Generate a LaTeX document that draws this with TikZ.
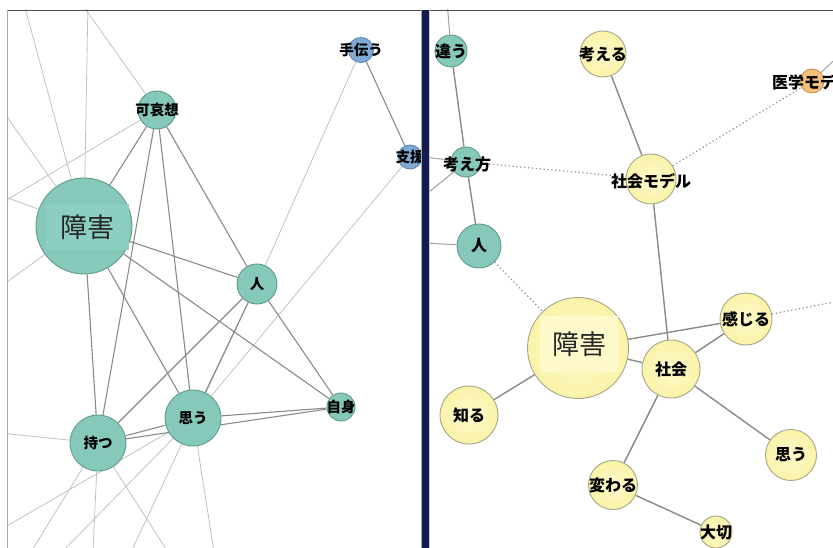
\documentclass[tikz,border=0pt]{standalone}
\usepackage{fontspec}
\newfontfamily\jp{Noto Sans CJK JP}
\pgfdeclarelayer{edgelayer}
\pgfsetlayers{edgelayer,main}
\definecolor{tlfill}{HTML}{86C9BB}
\definecolor{tlband}{HTML}{8CCFC2}
\definecolor{tldraw}{HTML}{5E9A8D}
\definecolor{blfill}{HTML}{7FAAD4}
\definecolor{bldraw}{HTML}{5A86B2}
\definecolor{ylfill}{HTML}{FAF3A8}
\definecolor{ylin}{HTML}{FEF9CC}
\definecolor{ylband}{HTML}{FEF9CA}
\definecolor{yldraw}{HTML}{A8A688}
\definecolor{olfill}{HTML}{F4C07A}
\definecolor{oldraw}{HTML}{C4975A}
\definecolor{navy}{HTML}{151B4A}
\definecolor{edgedark}{HTML}{8A8A8A}
\definecolor{edgelight}{HTML}{C2C2C2}
\definecolor{dotcol}{HTML}{9A9A9A}
\definecolor{leftrule}{HTML}{A0A6BE}
\tikzset{
  nd/.style={circle, inner sep=0pt, line width=0.9pt},
  tl/.style={nd, fill=tlfill, draw=tldraw},
  bl/.style={nd, fill=blfill, draw=bldraw},
  yl/.style={nd, draw=yldraw, shade, inner color=ylin, outer color=ylfill},
  ol/.style={nd, fill=olfill, draw=oldraw},
  lsm/.style={font=\jp\bfseries\fontsize{14.5}{15}\selectfont, text=black, inner sep=0pt},
  rsm/.style={font=\jp\bfseries\fontsize{16}{17}\selectfont, text=black, inner sep=0pt},
  bigtxt/.style={font=\jp\fontsize{27}{28}\selectfont, text=black!85, inner sep=0pt},
  se/.style={draw=edgedark, line width=1.1pt},
  le/.style={draw=edgelight, line width=0.8pt},
  re/.style={draw=edgedark, line width=1.4pt},
  rl/.style={draw=edgedark!80, line width=1.0pt},
  de/.style={draw=dotcol, line width=1.3pt, dash pattern=on 1.3pt off 2.6pt},
}
\begin{document}
\begin{tikzpicture}[x=1pt,y=-1pt]
\useasboundingbox (0,0) rectangle (833,548);

% ---------- left panel nodes ----------
\begin{scope}
\clip (7,10) rectangle (421,548);
\node[tl, minimum size=96pt] (Lsh) at (84,226) {};
\node[bigtxt, fill=tlband, minimum width=83pt, minimum height=46pt] (Lshtxt) at (87,227) {障害};
\node[tl, minimum size=38pt, label={[lsm]center:可哀想}] (Lka) at (157,110) {};
\node[bl, minimum size=25pt, label={[lsm]center:手伝う}] (Lte) at (361,50) {};
\node[bl, minimum size=24pt, label={[lsm]center:支援}] (Lsi) at (410,157) {};
\node[tl, minimum size=40pt, label={[lsm]center:人}] (Lhi) at (257,284) {};
\node[tl, minimum size=56pt, label={[lsm]center:持つ}] (Lmo) at (98,443) {};
\node[tl, minimum size=56pt, label={[lsm]center:思う}] (Lom) at (193,418) {};
\node[tl, minimum size=28pt, label={[lsm]center:自身}] (Lji) at (341,407) {};
\end{scope}

% ---------- right panel nodes ----------
\begin{scope}
\clip (429,10) rectangle (833,548);
\node[tl, minimum size=32pt, label={[rsm]center:違う}] (Rch) at (451,51) {};
\node[tl, minimum size=30pt] (Rkk) at (466,162) {};
\node[rsm] (Rkktxt) at (467,164) {考え方};
\node[tl, minimum size=44pt, label={[rsm]center:人}] (Rhi) at (479,246) {};
\node[yl, minimum size=46pt, label={[rsm]center:考える}] (Rka) at (603,54) {};
\node[yl, minimum size=50pt] (Rsm) at (651,179) {};
\node[rsm] (Rsmtxt) at (651,181) {社会モデル};
\node[ol, minimum size=24pt] (Ris) at (812,81) {};
\node[rsm] (Ristxt) at (812,82) {医学モデル};
\node[yl, minimum size=101pt] (Rsh) at (578,348) {};
\node[bigtxt, fill=ylband, minimum width=78pt, minimum height=56pt] (Rshtxt) at (579,344) {障害};
\node[yl, minimum size=58pt, label={[rsm]center:社会}] (Rsk) at (671,369) {};
\node[yl, minimum size=52pt, label={[rsm]center:感じる}] (Rkj) at (746,319) {};
\node[yl, minimum size=58pt, label={[rsm]center:知る}] (Rsr) at (469,415) {};
\node[yl, minimum size=51pt, label={[rsm]center:思う}] (Rom) at (791,455) {};
\node[yl, minimum size=49pt, label={[rsm]center:変わる}] (Rkw) at (613,485) {};
\node[yl, minimum size=32pt, label={[rsm]center:大切}] (Rtai) at (716,532) {};
\end{scope}

% free ends
\coordinate (t1) at (23,0);
\coordinate (t2) at (88,0);
\coordinate (t3) at (79,0);
\coordinate (l1) at (0,107);
\coordinate (l2) at (0,204);
\coordinate (l3) at (0,195);
\coordinate (l4) at (0,287);
\coordinate (l5) at (0,433);
\coordinate (b0) at (0,530);
\coordinate (b1) at (31,552);
\coordinate (b2) at (62,552);
\coordinate (b3) at (93,552);
\coordinate (b4) at (131,552);
\coordinate (b5) at (168,552);
\coordinate (b6) at (214,552);
\coordinate (rt) at (447,0);
\coordinate (rl1) at (424,157);
\coordinate (rl2) at (424,196);
\coordinate (rl3) at (424,243);
\coordinate (rr1) at (845,50);
\coordinate (rr2) at (845,300);

% ---------- edges ----------
\begin{pgfonlayer}{edgelayer}
\fill[white] (0,0) rectangle (833,548);
\begin{scope}
\clip (7,10) rectangle (421,548);
% light
\draw[le] (Lsh) -- (t1);
\draw[le] (Lsh) -- (t2);
\draw[le] (Lka) -- (t3);
\draw[le] (Lsh) -- (l1);
\draw[le] (Lka) -- (l2);
\draw[le] (Lsh) -- (l3);
\draw[le] (Lsh) -- (l4);
\draw[le] (Lmo) -- (l5);
\draw[le] (Lom) -- (b0);
\draw[le] (Lmo) -- (b1);
\draw[le] (Lom) -- (b2);
\draw[le] (Lmo) -- (b3);
\draw[le] (Lhi) -- (b4);
\draw[le] (Lmo) -- (b5);
\draw[le] (Lom) -- (b6);
\draw[le] (Lte) -- (Lhi);
\draw[le] (Lsi) -- (Lom);
% solid
\draw[se] (Lsh) -- (Lka);
\draw[se] (Lka) -- (Lhi);
\draw[se] (Lka) -- (Lmo);
\draw[se] (Lka) -- (Lom);
\draw[se] (Lsh) -- (Lhi);
\draw[se] (Lsh) -- (Lom);
\draw[se] (Lsh) -- (Lji);
\draw[se] (Lsh) -- (Lmo);
\draw[se] (Lhi) -- (Lmo);
\draw[se] (Lhi) -- (Lom);
\draw[se] (Lhi) -- (Lji);
\draw[se] (Lom) -- (Lji);
\draw[se] (Lmo) -- (Lji);
\draw[se] (Lmo) -- (Lom);
\draw[se] (Lte) -- (Lsi);
\end{scope}
\begin{scope}
\clip (429,10) rectangle (833,548);
\draw[rl] (Rch) -- (rt);
\draw[re] (Rch) -- (Rkk);
\draw[re] (Rkk) -- (Rhi);
\draw[rl] (Rkk) -- (rl1);
\draw[rl] (Rkk) -- (rl2);
\draw[rl] (Rhi) -- (rl3);
\draw[re] (Rka) -- (Rsm);
\draw[re] (Rsm) -- (Rsk);
\draw[rl] (Ris) -- (rr1);
\draw[re] (Rsh) -- (Rkj);
\draw[re] (Rsh) -- (Rsk);
\draw[re] (Rkj) -- (Rsk);
\draw[re] (Rsh) -- (Rsr);
\draw[re] (Rsk) -- (Rom);
\draw[re] (Rsk) -- (Rkw);
\draw[re] (Rkw) -- (Rtai);
\draw[de] (Rkk) -- (Rsm);
\draw[de] (Rsm) -- (Ris);
\draw[de] (Rhi) -- (Rsh);
\draw[de] (Rkj) -- (rr2);
\end{scope}
\end{pgfonlayer}

% ---------- frame ----------
\draw[black!70, line width=1.3pt] (7,10.5) -- (833,10.5);
\draw[leftrule, line width=1.6pt] (7.5,10) -- (7.5,548);
\fill[navy] (421.5,10) rectangle (429,548);
\draw[leftrule, line width=0.8pt] (421.2,10) -- (421.2,548);
\draw[leftrule!60!white, line width=0.8pt] (429.4,10) -- (429.4,548);
\end{tikzpicture}
\end{document}
